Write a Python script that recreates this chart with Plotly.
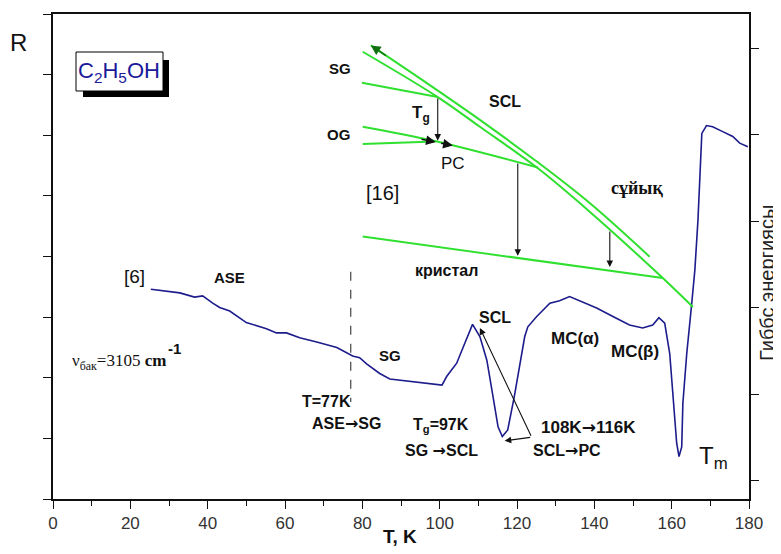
import plotly.graph_objects as go

# ---------------- data ----------------
# blue spectroscopic curve R(T)  (left axis, arbitrary units 0..8)
T_blue = [25.3, 32.8, 36.6, 38.7, 41.3, 43.1, 45.7, 50.0, 55.2, 57.8, 60.4, 63.8, 68.2,
          72.4, 73.4, 77.5, 79.3, 81.1, 84.5, 87.1, 89.7, 93.2, 95.7, 100.6, 101.8,
          104.4, 106.5, 108.5, 110.4, 112.2, 113.8, 115.1, 116.2, 117.6, 119.3, 120.7,
          122.0, 122.8, 125.1, 128.5, 131.0, 133.6, 136.2, 140.6, 144.8, 149.1, 152.5,
          155.1, 156.7, 158.2, 159.5, 160.3, 161.3, 161.9, 162.6, 162.9, 163.9, 165.2,
          166.0, 166.8, 167.8, 169.0, 170.6, 173.2, 175.8, 177.6, 179.7]
R_blue = [3.46, 3.40, 3.33, 3.35, 3.23, 3.16, 3.10, 2.91, 2.81, 2.74, 2.74, 2.66, 2.59,
          2.52, 2.50, 2.36, 2.33, 2.23, 2.07, 1.98, 1.96, 1.94, 1.91, 1.88, 2.02,
          2.24, 2.57, 2.88, 2.68, 2.29, 1.69, 1.19, 1.03, 1.14, 1.69, 2.24,
          2.68, 2.84, 3.01, 3.23, 3.27, 3.34, 3.27, 3.15, 3.01, 2.87, 2.82,
          2.87, 2.99, 2.90, 2.40, 1.69, 0.92, 0.70, 0.86, 1.58, 2.40, 3.23,
          3.78, 4.60, 6.03, 6.16, 6.14, 6.06, 5.98, 5.87, 5.81]

# Gibbs energy schematic (right axis)
T_scl_up = [82.2, 96.5, 110.4, 124.5, 138.8, 154.3]
G_scl_up = [6.03, 5.60, 5.17, 4.71, 4.21, 3.59]
T_scl_lo = [80.1, 99.5, 110.4, 125.4, 138.8, 157.7, 165.5]
G_scl_lo = [5.957, 5.434, 5.091, 4.611, 4.110, 3.344, 3.009]
T_sg = [79.9, 99.5]
G_sg = [5.599, 5.434]
T_og1 = [80.1, 98.7, 125.4]
G_og1 = [5.091, 4.926, 4.620]
T_og2 = [80.1, 98.7]
G_og2 = [4.891, 4.920]
T_cr = [80.1, 157.7]
G_cr = [3.823, 3.344]

# transitions (T, G_from, G_to)
v_arrows = [(99.5, 5.434, 4.93), (120.2, 4.684, 3.60), (144.0, 3.898, 3.47)]

T_dash = 77
R_dash = [3.75, 1.60]

xticks = [0, 20, 40, 60, 80, 100, 120, 140, 160, 180]

# ---------------- figure ----------------
# page is 781x554 with an 8px body margin -> figure 765x538
W, H = 765, 538
OFF = 8
PL, PR, PT, PB = 53, 749, 14, 499          # plot area in page pixels
L, R, Tm, B = PL - OFF, (W + OFF) - PR, PT - OFF, (H + OFF) - PB
BLUE = "#1c1c8c"
GREEN = "#2fe02f"
SANS = "Liberation Sans, Arial, sans-serif"
SERIF = "Liberation Serif, Times New Roman, serif"
ARR = '<span style="font-family:DejaVu Sans">→</span>'


def P(px, py):
    return (px - PL) / (PR - PL), (PB - py) / (PB - PT)


fig = go.Figure()
fig.add_trace(go.Scatter(x=T_blue, y=R_blue, mode="lines",
                         line=dict(color=BLUE, width=1.6), yaxis="y"))
fig.add_trace(go.Scatter(x=[T_dash, T_dash], y=R_dash, mode="lines",
                         line=dict(color="#444", width=1.2, dash="dash"), yaxis="y"))
for tx, gy, sh in [(T_scl_up, G_scl_up, "spline"), (T_scl_lo, G_scl_lo, "spline"),
                   (T_sg, G_sg, "linear"), (T_og1, G_og1, "spline"),
                   (T_og2, G_og2, "linear"), (T_cr, G_cr, "linear")]:
    fig.add_trace(go.Scatter(x=tx, y=gy, mode="lines", yaxis="y2",
                             line=dict(color=GREEN, width=2, shape=sh)))

ann = []
for t, g0, g1 in v_arrows:
    ann.append(dict(x=t, y=g1, ax=t, ay=g0, xref="x", yref="y2", axref="x", ayref="y2",
                    text="", showarrow=True, arrowhead=2, arrowsize=1.2, arrowwidth=1.1,
                    arrowcolor="#111"))
for (x0, y0, x1, y1, c) in [(94.9, 4.949, 99.0, 4.915, "#111"),
                            (100.0, 4.903, 103.4, 4.874, "#111"),
                            (86.5, 5.90, 82.2, 6.03, "#107010")]:
    ann.append(dict(x=x1, y=y1, ax=x0, ay=y0, xref="x", yref="y2", axref="x", ayref="y2",
                    text="", showarrow=True, arrowhead=2, arrowsize=1.3, arrowwidth=1.5,
                    arrowcolor=c))
for (xt, yt) in [(110.4, 2.82), (116.8, 0.96)]:
    ann.append(dict(x=xt, y=yt, ax=123.8, ay=1.02, xref="x", yref="y", axref="x", ayref="y",
                    text="", showarrow=True, arrowhead=2, arrowsize=1.2, arrowwidth=1.1,
                    arrowcolor="#111"))

labels = [
    ("<b>SG</b>", 340, 68, 15, SANS),
    ("<b>OG</b>", 338, 134, 15, SANS),
    ("<b>T<sub>g</sub></b>", 421, 114, 17, SANS),
    ("<b>SCL</b>", 505, 101, 16, SANS),
    ("PC", 453, 163, 17, SANS),
    ("[16]", 382, 193, 20, SANS),
    ("<b>сұйық</b>", 637, 188, 18, SERIF),
    ("<b>кристал</b>", 446, 270, 16, SANS),
    ("[6]", 134, 276, 19, SANS),
    ("<b>ASE</b>", 229, 277, 15, SANS),
    ("<b>SG</b>", 390, 356, 15, SANS),
    ("<b>T=77K</b>", 326, 401, 16, SANS),
    ("<b>ASE" + ARR + "SG</b>", 346, 423, 16, SANS),
    ("<b>T<sub>g</sub>=97K</b>", 441, 425, 16, SANS),
    ("<b>SG " + ARR + "SCL</b>", 441, 450, 16, SANS),
    ("<b>SCL</b>", 495, 317, 16, SANS),
    ("<b>108K" + ARR + "116K</b>", 588, 427, 17, SANS),
    ("<b>SCL" + ARR + "PC</b>", 567, 450, 16, SANS),
    ("<b>MC(α)</b>", 575, 338, 17, SANS),
    ("<b>MC(β)</b>", 635, 351, 17, SANS),
    ("T<sub>m</sub>", 713, 457, 24, SANS),
    ("R", 18, 42, 24, SANS),
    ("<b>T, K</b>", 400, 536, 19, SANS),
    ("ν<sub>бак</sub>=3105 <b>cm</b>", 119, 362, 17, SERIF),
    ("<b>-1</b>", 174, 348, 15, SANS),
    ("C<sub>2</sub>H<sub>5</sub>OH", 119, 72, 22, SANS),
]
for txt, px, py, fs, fam in labels:
    xp, yp = P(px, py)
    col = "#1a1a9a" if txt.startswith("C<sub>") else "#111"
    ann.append(dict(x=xp, y=yp, xref="paper", yref="paper", text=txt, showarrow=False,
                    xanchor="center", yanchor="middle",
                    font=dict(size=fs, family=fam, color=col)))
xp, yp = P(767, 283)
ann.append(dict(x=xp, y=yp, xref="paper", yref="paper", text="Гиббс энергиясы",
                showarrow=False, textangle=-90, xanchor="center", yanchor="middle",
                font=dict(size=20, family=SANS, color="#222")))

shapes = []
x0, y1 = P(83, 60); x1, y0 = P(169, 97)
shapes.append(dict(type="rect", xref="paper", yref="paper", x0=x0, x1=x1, y0=y0, y1=y1,
                   fillcolor="black", line=dict(width=0)))
x0, y1 = P(76, 52); x1, y0 = P(163, 91)
shapes.append(dict(type="rect", xref="paper", yref="paper", x0=x0, x1=x1, y0=y0, y1=y1,
                   fillcolor="white", line=dict(color="black", width=1)))

fig.update_layout(
    width=W, height=H, margin=dict(l=L, r=R, t=Tm, b=B, autoexpand=False),
    paper_bgcolor="white", plot_bgcolor="white", showlegend=False,
    font=dict(family=SANS),
    xaxis=dict(range=[0, 180], tickvals=xticks, ticks="outside", ticklen=8, tickwidth=1.3,
               minor=dict(dtick=10, ticks="outside", ticklen=5, tickwidth=1.2, tickcolor="#111"),
               tickcolor="#111", tickfont=dict(size=17, color="#333", family=SANS),
               showline=True, linecolor="#111", linewidth=1.5, mirror=True,
               showgrid=False, zeroline=False),
    yaxis=dict(range=[0, 8], dtick=1, ticks="outside", ticklen=8, tickwidth=1.3, tickcolor="#111",
               showticklabels=False, showline=True, linecolor="#111", linewidth=1.5,
               showgrid=False, zeroline=False),
    yaxis2=dict(range=[0.792, 6.393], tickvals=[1, 2, 3, 4, 5, 6], ticks="outside", ticklen=8,
                tickwidth=1.3, tickcolor="#111", showticklabels=False, overlaying="y",
                side="right", showline=True, linecolor="#111", linewidth=1.5,
                showgrid=False, zeroline=False),
    annotations=ann, shapes=shapes,
)
fig.write_html("out.html")
